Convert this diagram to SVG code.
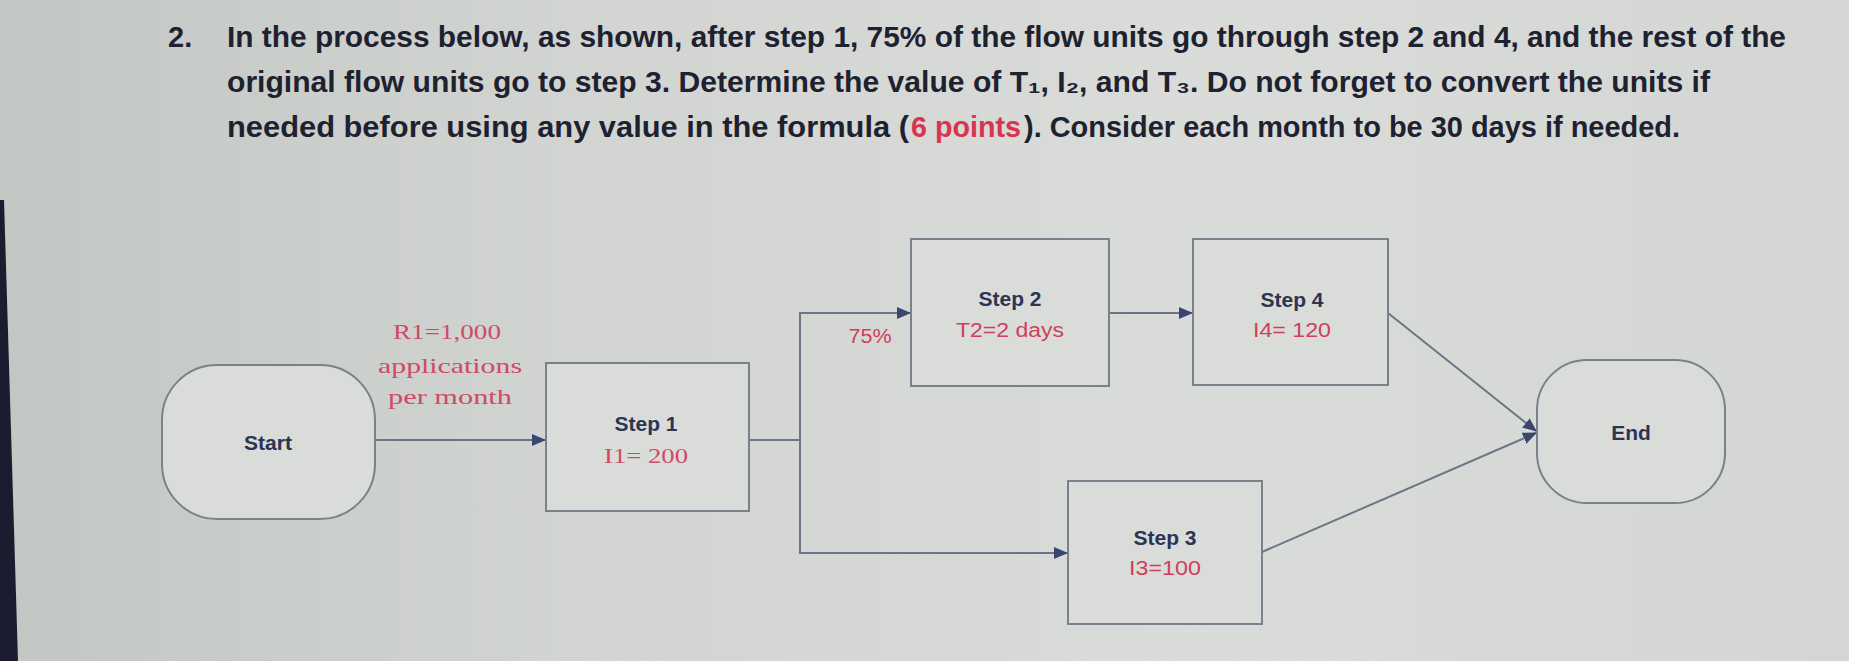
<svg xmlns="http://www.w3.org/2000/svg" width="1849" height="661" viewBox="0 0 1849 661">
  <defs>
    <linearGradient id="bg" x1="0" y1="0" x2="1" y2="0">
      <stop offset="0" stop-color="#c3c7c3"/>
      <stop offset="0.3" stop-color="#d1d4d0"/>
      <stop offset="0.65" stop-color="#d9dcd8"/>
      <stop offset="1" stop-color="#d3d6d2"/>
    </linearGradient>
    <marker id="arr" markerUnits="userSpaceOnUse" markerWidth="14" markerHeight="12" refX="13" refY="6" orient="auto">
      <path d="M0,0 L14,6 L0,12 z" fill="#3a4570"/>
    </marker>
    <style>
      .q { font-family: "Liberation Sans", Arial, sans-serif; font-weight: bold; font-size: 29px; fill: #1e2230; }
      .qr { fill: #d8354f; }
      .box { fill: #dadcd9; stroke: #7b818a; stroke-width: 2; }
      .lbl { font-family: "Liberation Sans", Arial, sans-serif; font-weight: bold; font-size: 21px; fill: #2b3452; text-anchor: middle; }
      .val { font-family: "Liberation Sans", Arial, sans-serif; font-size: 20px; fill: #cf3f5c; text-anchor: middle; }
      .vals { font-family: "Liberation Serif", "Times New Roman", serif; font-size: 22px; fill: #cf4a66; text-anchor: middle; }
      .con { fill: none; stroke: #6c7586; stroke-width: 2; }
    </style>
  </defs>

  <rect x="0" y="0" width="1849" height="661" fill="url(#bg)"/>
  <polygon points="0,200 4,200 18,661 0,661" fill="#1c1c30"/>

  <g id="question">
    <text class="q" x="168" y="47">2.</text>
    <text class="q" x="227" y="47" textLength="1559" lengthAdjust="spacingAndGlyphs">In the process below, as shown, after step 1, 75% of the flow units go through step 2 and 4, and the rest of the</text>
    <text class="q" x="227" y="92" textLength="1483" lengthAdjust="spacingAndGlyphs">original flow units go to step 3. Determine the value of T₁, I₂, and T₃. Do not forget to convert the units if</text>
    <text class="q" x="227" y="137" textLength="682" lengthAdjust="spacingAndGlyphs">needed before using any value in the formula (</text>
    <text class="q qr" x="911" y="137" textLength="110" lengthAdjust="spacingAndGlyphs">6 points</text>
    <text class="q" x="1024" y="137" textLength="656" lengthAdjust="spacingAndGlyphs">). Consider each month to be 30 days if needed.</text>
  </g>

  <g id="connectors">
    <line class="con" x1="375" y1="440" x2="545" y2="440" marker-end="url(#arr)"/>
    <path class="con" d="M749,440 H800 V313 H910" marker-end="url(#arr)"/>
    <path class="con" d="M800,440 V553 H1067" marker-end="url(#arr)"/>
    <line class="con" x1="1109" y1="313" x2="1192" y2="313" marker-end="url(#arr)"/>
    <line class="con" x1="1388" y1="313" x2="1536" y2="431" marker-end="url(#arr)"/>
    <line class="con" x1="1262" y1="552" x2="1536" y2="433" marker-end="url(#arr)"/>
    <text class="vals" x="447" y="339" textLength="108" lengthAdjust="spacingAndGlyphs">R1=1,000</text>
    <text class="vals" x="450" y="373" textLength="144" lengthAdjust="spacingAndGlyphs">applications</text>
    <text class="vals" x="450" y="404" textLength="124" lengthAdjust="spacingAndGlyphs">per month</text>
    <text class="val" x="870" y="343" font-size="18" textLength="43" lengthAdjust="spacingAndGlyphs">75%</text>
  </g>

  <g id="start">
    <rect class="box" x="162" y="365" width="213" height="154" rx="55" ry="55"/>
    <text class="lbl" x="268" y="450" font-size="22">Start</text>
  </g>

  <g id="step1">
    <rect class="box" x="546" y="363" width="203" height="148"/>
    <text class="lbl" x="646" y="431">Step 1</text>
    <text class="vals" x="646" y="463" textLength="84" lengthAdjust="spacingAndGlyphs">I1= 200</text>
  </g>

  <g id="step2">
    <rect class="box" x="911" y="239" width="198" height="147"/>
    <text class="lbl" x="1010" y="306">Step 2</text>
    <text class="val" x="1010" y="337" textLength="108" lengthAdjust="spacingAndGlyphs">T2=2 days</text>
  </g>

  <g id="step4">
    <rect class="box" x="1193" y="239" width="195" height="146"/>
    <text class="lbl" x="1292" y="307">Step 4</text>
    <text class="val" x="1292" y="337" textLength="78" lengthAdjust="spacingAndGlyphs">I4= 120</text>
  </g>

  <g id="step3">
    <rect class="box" x="1068" y="481" width="194" height="143"/>
    <text class="lbl" x="1165" y="545">Step 3</text>
    <text class="val" x="1165" y="575" textLength="72" lengthAdjust="spacingAndGlyphs">I3=100</text>
  </g>

  <g id="end">
    <rect class="box" x="1537" y="360" width="188" height="143" rx="50" ry="50"/>
    <text class="lbl" x="1631" y="440" font-size="22">End</text>
  </g>
</svg>
